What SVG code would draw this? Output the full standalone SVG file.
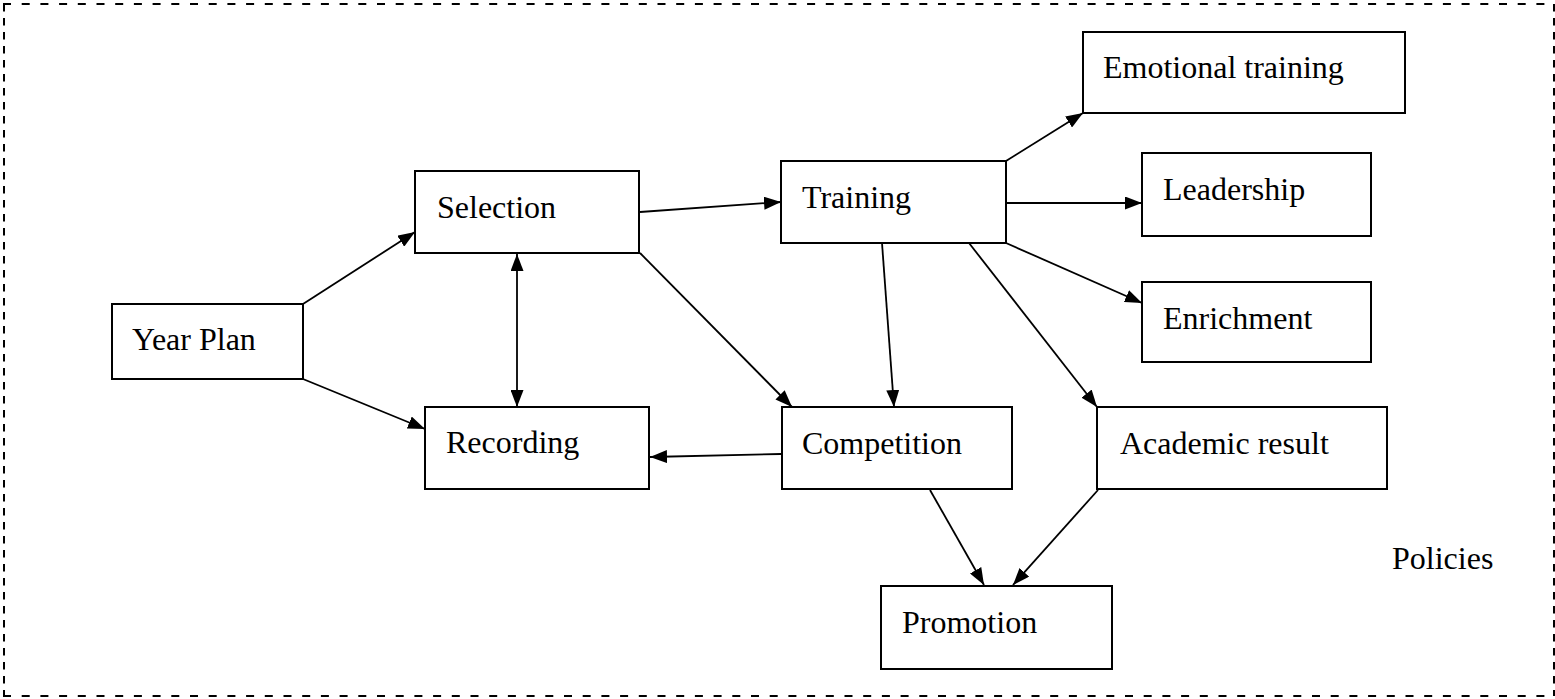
<svg xmlns="http://www.w3.org/2000/svg" width="1555" height="699" viewBox="0 0 1555 699">
<style>
.box{fill:#fff;stroke:#000;stroke-width:2}
.lbl{font-family:"Liberation Serif","Times New Roman",serif;font-size:32px;fill:#000}
.edge{stroke:#000;stroke-width:1.8;fill:none;marker-end:url(#ah)}
.border{stroke:#000;stroke-width:2;fill:none}
</style>
<defs>
<marker id="ah" viewBox="0 0 17 13" refX="17" refY="6.5" markerWidth="17" markerHeight="13" markerUnits="userSpaceOnUse" orient="auto-start-reverse">
<path d="M0,0 L17,6.5 L0,13 Z" fill="#000"/>
</marker>
</defs>
<rect width="1555" height="699" fill="#fff"/>
<g id="frame">
<line class="border" x1="3" y1="4" x2="1554" y2="4" stroke-dasharray="8 10.7"/>
<line class="border" x1="3" y1="696" x2="1554" y2="696" stroke-dasharray="8 10.7"/>
<line class="border" x1="4" y1="4" x2="4" y2="696" stroke-dasharray="7.5 6.5"/>
<line class="border" x1="1554" y1="4" x2="1554" y2="696" stroke-dasharray="7.5 6.5" stroke="#999"/>
</g>
<g id="connectors">
<line class="edge" x1="303" y1="304" x2="415" y2="232"/>
<line class="edge" x1="303" y1="379" x2="425" y2="429"/>
<line class="edge" x1="517" y1="254" x2="517" y2="407" style="marker-start:url(#ah)"/>
<line class="edge" x1="640" y1="212" x2="781" y2="202"/>
<line class="edge" x1="640" y1="253" x2="792" y2="407"/>
<line class="edge" x1="882" y1="243" x2="894" y2="407"/>
<line class="edge" x1="969" y1="243" x2="1097" y2="407"/>
<line class="edge" x1="1006" y1="161" x2="1083" y2="113"/>
<line class="edge" x1="1006" y1="203" x2="1142" y2="203"/>
<line class="edge" x1="1006" y1="243" x2="1142" y2="303"/>
<line class="edge" x1="781" y1="454" x2="650" y2="457"/>
<line class="edge" x1="930" y1="490" x2="984" y2="585"/>
<line class="edge" x1="1098" y1="490" x2="1013" y2="585"/>
</g>
<g id="year-plan"><rect class="box" x="112" y="304" width="191" height="75"/><text class="lbl" x="132" y="350">Year Plan</text></g>
<g id="selection"><rect class="box" x="415" y="171" width="224" height="82"/><text class="lbl" x="437" y="218">Selection</text></g>
<g id="training"><rect class="box" x="781" y="161" width="225" height="82"/><text class="lbl" x="802" y="208">Training</text></g>
<g id="emotional-training"><rect class="box" x="1083" y="32" width="322" height="81"/><text class="lbl" x="1103" y="78">Emotional training</text></g>
<g id="leadership"><rect class="box" x="1142" y="153" width="229" height="83"/><text class="lbl" x="1163" y="200">Leadership</text></g>
<g id="enrichment"><rect class="box" x="1142" y="282" width="229" height="80"/><text class="lbl" x="1163" y="329">Enrichment</text></g>
<g id="recording"><rect class="box" x="425" y="407" width="224" height="82"/><text class="lbl" x="446" y="453">Recording</text></g>
<g id="competition"><rect class="box" x="782" y="407" width="230" height="82"/><text class="lbl" x="802" y="454">Competition</text></g>
<g id="academic-result"><rect class="box" x="1097" y="407" width="290" height="82"/><text class="lbl" x="1120" y="454">Academic result</text></g>
<g id="promotion"><rect class="box" x="881" y="586" width="231" height="83"/><text class="lbl" x="902" y="633">Promotion</text></g>
<g id="policies"><text class="lbl" x="1392" y="569">Policies</text></g>
</svg>
